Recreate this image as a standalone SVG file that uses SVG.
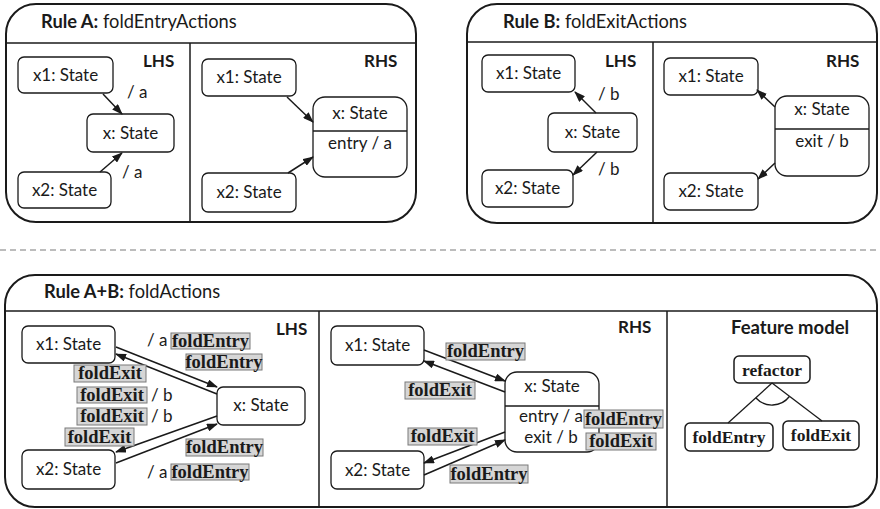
<svg xmlns="http://www.w3.org/2000/svg" width="880" height="509" viewBox="0 0 880 509">
<style>
.frame{fill:none;stroke:#1a1a1a;stroke-width:2}
.div{fill:none;stroke:#1a1a1a;stroke-width:1.5}
.node{fill:#fff;stroke:#1a1a1a;stroke-width:1.3}
.fm{fill:#fff;stroke:#1a1a1a;stroke-width:1.5}
.t{font-family:Lato,"Open Sans",sans-serif;font-size:17px;fill:#1a1a1a}
.ttl{font-size:18.3px}
.c{text-anchor:middle}
.b{font-weight:bold}
.e{fill:none;stroke:#1a1a1a;stroke-width:1.5;marker-end:url(#ah)}
.tag{fill:#d6d6d6;stroke:#7a7a7a;stroke-width:1}
.s{font-family:"Liberation Serif","Times New Roman",serif;font-weight:bold;font-size:18.5px;fill:#1a1a1a;text-anchor:middle}
.dash{stroke:#a6a6a6;stroke-width:1.5;stroke-dasharray:6,4}
</style>
<defs>
<marker id="ah" markerUnits="userSpaceOnUse" markerWidth="11" markerHeight="8" refX="10" refY="4" orient="auto">
<path d="M0,0 L11,4 L0,8 z" fill="#1a1a1a"/>
</marker>
</defs>
<rect width="880" height="509" fill="#fff"/>
<line class="dash" x1="0" y1="250" x2="880" y2="250"/>

<g id="ruleA">
<rect class="frame" x="6" y="4" width="410" height="218" rx="30"/>
<line class="div" x1="6" y1="43" x2="416" y2="43"/>
<line class="div" x1="190" y1="43" x2="190" y2="222"/>
<text class="t ttl" x="41" y="28"><tspan class="b">Rule A:</tspan> foldEntryActions</text>
<text class="t b" x="143" y="67">LHS</text>
<text class="t b" x="364" y="67">RHS</text>
</g>
<g id="ruleB">
<rect class="frame" x="467" y="4" width="410" height="219" rx="30"/>
<line class="div" x1="467" y1="42" x2="877" y2="42"/>
<line class="div" x1="653" y1="42" x2="653" y2="223"/>
<text class="t ttl" x="503" y="28"><tspan class="b">Rule B:</tspan> foldExitActions</text>
<text class="t b" x="605" y="67">LHS</text>
<text class="t b" x="826" y="67">RHS</text>
</g>
<g id="ruleAB">
<rect class="frame" x="5" y="275" width="872" height="232" rx="30"/>
<line class="div" x1="5" y1="311" x2="877" y2="311"/>
<line class="div" x1="319" y1="311" x2="319" y2="507"/>
<line class="div" x1="667" y1="311" x2="667" y2="507"/>
<text class="t ttl" x="44" y="298"><tspan class="b">Rule A+B:</tspan> foldActions</text>
<text class="t b" x="276" y="335">LHS</text>
<text class="t b" x="618" y="333">RHS</text>
<text class="t b" x="731" y="334" style="font-size:18.5px">Feature model</text>
</g>

<g id="A-lhs-x1"><rect class="node" x="18" y="57" width="95" height="36" rx="6"/><text class="t c" x="65.5" y="81">x1: State</text></g>
<g id="A-lhs-x"><rect class="node" x="87" y="114" width="87" height="38" rx="6"/><text class="t c" x="130.5" y="139">x: State</text></g>
<g id="A-lhs-x2"><rect class="node" x="18" y="172" width="93" height="36" rx="6"/><text class="t c" x="64.5" y="196">x2: State</text></g>
<g id="A-rhs-x1"><rect class="node" x="202" y="59" width="94" height="37" rx="6"/><text class="t c" x="249" y="83">x1: State</text></g>
<g id="A-rhs-x2"><rect class="node" x="202" y="173" width="94" height="39" rx="6"/><text class="t c" x="249" y="198">x2: State</text></g>
<g id="A-rhs-x"><rect class="node" x="313" y="97" width="94" height="80" rx="12"/><line class="node" x1="313" y1="131" x2="407" y2="131"/><text class="t c" x="360" y="119">x: State</text><text class="t c" x="360" y="149">entry / a</text></g>

<g id="B-lhs-x1"><rect class="node" x="482" y="55" width="93" height="37" rx="6"/><text class="t c" x="528.5" y="79">x1: State</text></g>
<g id="B-lhs-x"><rect class="node" x="548" y="113" width="89" height="39" rx="6"/><text class="t c" x="592.5" y="138">x: State</text></g>
<g id="B-lhs-x2"><rect class="node" x="482" y="170" width="91" height="37" rx="6"/><text class="t c" x="527.5" y="194">x2: State</text></g>
<g id="B-rhs-x1"><rect class="node" x="664" y="58" width="94" height="37" rx="6"/><text class="t c" x="711" y="82">x1: State</text></g>
<g id="B-rhs-x2"><rect class="node" x="664" y="173" width="94" height="37" rx="6"/><text class="t c" x="711" y="197">x2: State</text></g>
<g id="B-rhs-x"><rect class="node" x="775" y="96" width="94" height="80" rx="12"/><line class="node" x1="775" y1="129" x2="869" y2="129"/><text class="t c" x="822" y="115">x: State</text><text class="t c" x="822" y="147">exit / b</text></g>

<g id="AB-lhs-x1"><rect class="node" x="22" y="326" width="93" height="37" rx="6"/><text class="t c" x="68.5" y="350">x1: State</text></g>
<g id="AB-lhs-x"><rect class="node" x="217" y="387" width="88" height="38" rx="6"/><text class="t c" x="261" y="411">x: State</text></g>
<g id="AB-lhs-x2"><rect class="node" x="22" y="450" width="93" height="39" rx="6"/><text class="t c" x="68.5" y="475">x2: State</text></g>
<g id="AB-rhs-x1"><rect class="node" x="331" y="326" width="93" height="39" rx="6"/><text class="t c" x="377.5" y="351">x1: State</text></g>
<g id="AB-rhs-x2"><rect class="node" x="331" y="451" width="93" height="38" rx="6"/><text class="t c" x="377.5" y="476">x2: State</text></g>
<g id="AB-rhs-x"><rect class="node" x="505" y="372" width="94" height="80" rx="12"/><line class="node" x1="505" y1="406" x2="599" y2="406"/><text class="t c" x="552" y="392">x: State</text><text class="t c" x="551" y="422">entry / a</text><text class="t c" x="551" y="443">exit / b</text></g>

<g id="fm-refactor"><rect class="fm" x="734" y="356" width="76" height="27" rx="5"/><text class="s" x="772" y="376" style="font-size:17.5px">refactor</text></g>
<g id="fm-foldEntry"><rect class="fm" x="685" y="423" width="88" height="28" rx="5"/><text class="s" x="729" y="443" style="font-size:17.5px">foldEntry</text></g>
<g id="fm-foldExit"><rect class="fm" x="783" y="421" width="76" height="29" rx="5"/><text class="s" x="821" y="441" style="font-size:17.5px">foldExit</text></g>

<g id="connectors">
<line class="e" x1="103" y1="94" x2="122" y2="114"/>
<line class="e" x1="100" y1="172" x2="122" y2="153"/>
<text class="t" x="127" y="98">/ a</text>
<text class="t" x="122" y="178">/ a</text>
<line class="e" x1="287" y1="97" x2="313" y2="122"/>
<line class="e" x1="288" y1="173" x2="313" y2="157"/>

<line class="e" x1="596" y1="113" x2="575" y2="92"/>
<line class="e" x1="597" y1="152" x2="573" y2="175"/>
<text class="t" x="598" y="100">/ b</text>
<text class="t" x="598" y="175">/ b</text>
<line class="e" x1="775" y1="107" x2="757" y2="90"/>
<line class="e" x1="775" y1="163" x2="758" y2="179"/>

<line class="e" x1="116" y1="347" x2="217" y2="387"/>
<line class="e" x1="217" y1="394" x2="116" y2="354"/>
<line class="e" x1="217" y1="416" x2="116" y2="452"/>
<line class="e" x1="116" y1="463" x2="217" y2="424"/>
<text class="t" x="147" y="346">/ a</text>
<rect class="tag" x="171" y="333" width="79" height="16"/><text class="s" x="210.5" y="346.5">foldEntry</text>
<rect class="tag" x="186" y="354" width="76" height="16"/><text class="s" x="224" y="367.5">foldEntry</text>
<rect class="tag" x="74" y="365" width="72" height="17"/><text class="s" x="110" y="379">foldExit</text>
<rect class="tag" x="77" y="387" width="70" height="16"/><text class="s" x="112" y="400.5">foldExit</text>
<text class="t" x="151" y="401">/ b</text>
<rect class="tag" x="77" y="408" width="70" height="17"/><text class="s" x="112" y="422">foldExit</text>
<text class="t" x="151" y="422">/ b</text>
<rect class="tag" x="65" y="428" width="69" height="18"/><text class="s" x="99.5" y="442.5">foldExit</text>
<rect class="tag" x="186" y="439" width="77" height="17"/><text class="s" x="224.5" y="453">foldEntry</text>
<text class="t" x="147" y="478">/ a</text>
<rect class="tag" x="171" y="464" width="78" height="16"/><text class="s" x="210" y="477.5">foldEntry</text>

<line class="e" x1="424" y1="350" x2="505" y2="381"/>
<line class="e" x1="505" y1="392" x2="424" y2="361"/>
<line class="e" x1="505" y1="432" x2="424" y2="463"/>
<line class="e" x1="424" y1="475" x2="505" y2="440"/>
<rect class="tag" x="446" y="343" width="79" height="17"/><text class="s" x="485.5" y="357">foldEntry</text>
<rect class="tag" x="405" y="382" width="70" height="17"/><text class="s" x="440" y="396">foldExit</text>
<rect class="tag" x="408" y="428" width="69" height="17"/><text class="s" x="442.5" y="442">foldExit</text>
<rect class="tag" x="450" y="465" width="78" height="18"/><text class="s" x="489" y="479.5">foldEntry</text>
<rect class="tag" x="584" y="410" width="79" height="18"/><text class="s" x="623.5" y="424.5">foldEntry</text>
<rect class="tag" x="586" y="433" width="70" height="17"/><text class="s" x="621" y="447">foldExit</text>

<line class="div" x1="772" y1="383" x2="728" y2="423" style="stroke-width:1.3"/>
<line class="div" x1="772" y1="383" x2="822" y2="421" style="stroke-width:1.3"/>
<path class="div" d="M755.7,397.8 A22,22 0 0 0 789.4,396.5" style="stroke-width:1.3"/>
</g>
</svg>
